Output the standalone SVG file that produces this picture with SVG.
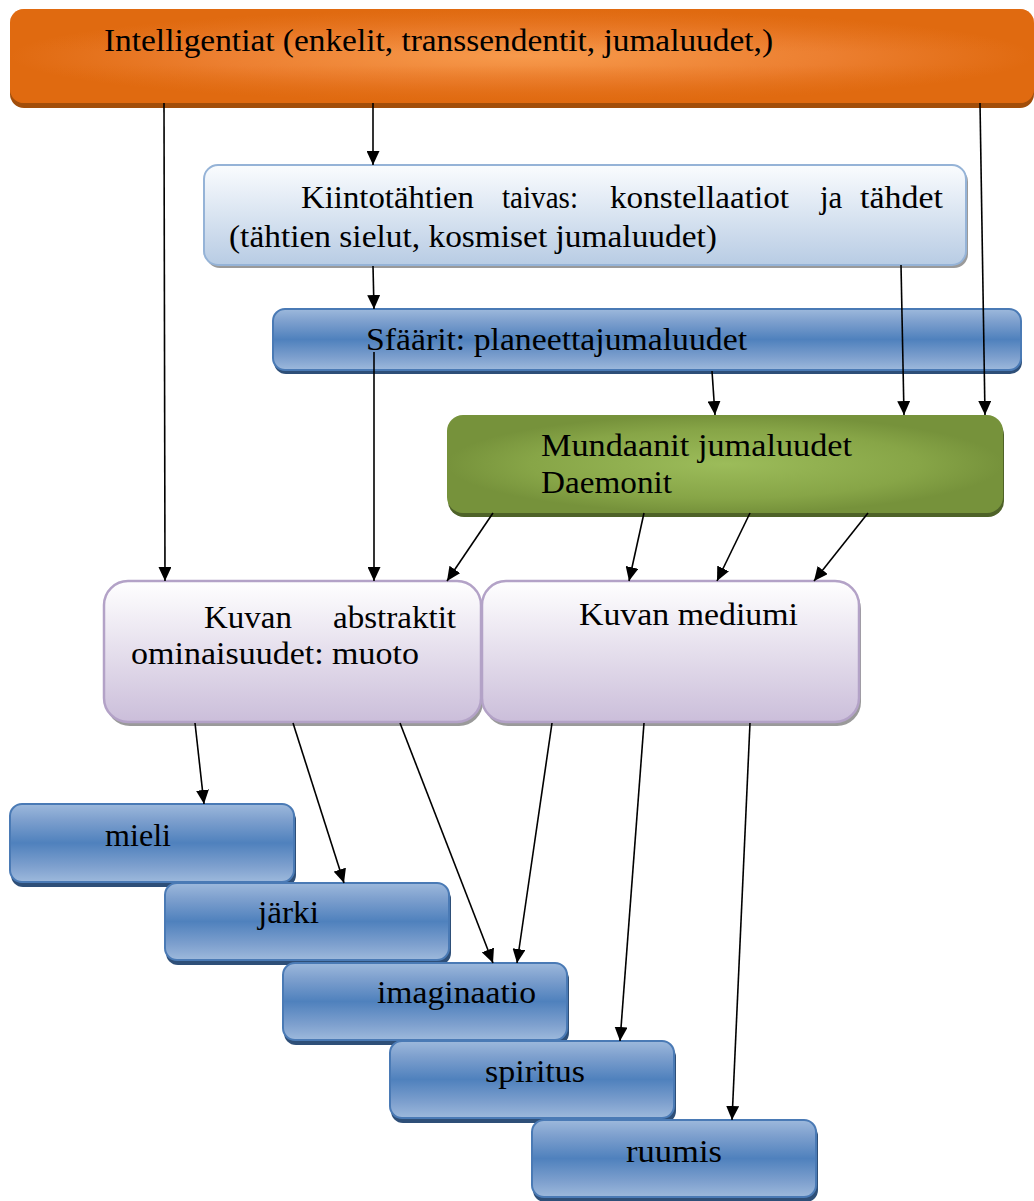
<svg xmlns="http://www.w3.org/2000/svg" width="1034" height="1201" viewBox="0 0 1034 1201">
<defs>
  <radialGradient id="gOrange" cx="0.5" cy="0.5" r="0.5">
    <stop offset="0" stop-color="#F79A4C"/>
    <stop offset="0.6" stop-color="#EC7F30"/>
    <stop offset="1" stop-color="#E06A10"/>
  </radialGradient>
  <linearGradient id="gOrangeV" x1="0" y1="0" x2="0" y2="1">
    <stop offset="0" stop-color="#E06A10" stop-opacity="0.6"/>
    <stop offset="0.45" stop-color="#E06A10" stop-opacity="0"/>
    <stop offset="0.6" stop-color="#E06A10" stop-opacity="0"/>
    <stop offset="1" stop-color="#E06A10" stop-opacity="0.8"/>
  </linearGradient>
  <linearGradient id="gLight" x1="0" y1="0" x2="0" y2="1">
    <stop offset="0" stop-color="#FAFCFE"/>
    <stop offset="1" stop-color="#B8CCE4"/>
  </linearGradient>
  <linearGradient id="gBlue" x1="0" y1="0" x2="0" y2="1">
    <stop offset="0" stop-color="#9DB9DC"/>
    <stop offset="0.2" stop-color="#7EA0CE"/>
    <stop offset="0.5" stop-color="#4F81BD"/>
    <stop offset="0.8" stop-color="#7EA0CE"/>
    <stop offset="1" stop-color="#9DB9DC"/>
  </linearGradient>
  <radialGradient id="gGreen" cx="0.5" cy="0.5" r="0.5">
    <stop offset="0" stop-color="#9CBC5A"/>
    <stop offset="0.7" stop-color="#87A547"/>
    <stop offset="1" stop-color="#76923B"/>
  </radialGradient>
  <linearGradient id="gLav" x1="0" y1="0" x2="0" y2="1">
    <stop offset="0" stop-color="#FFFFFF"/>
    <stop offset="1" stop-color="#CBBEDA"/>
  </linearGradient>
  <marker id="arr" markerUnits="userSpaceOnUse" markerWidth="14" markerHeight="13" refX="14" refY="6.5" orient="auto">
    <path d="M0,0 L14,6.5 L0,13 z" fill="#000"/>
  </marker>
</defs>
<style>
  .t { font-family: 'Liberation Serif', 'Times New Roman', serif; font-size: 31px; fill: #000; }
  .lt { fill: url(#gLight); stroke: #95B3D7; stroke-width: 2; }
  .bl { fill: url(#gBlue); stroke: #4A7AB5; stroke-width: 2; }
  .blsh { fill: #2E4F78; }
  .grsh { fill: #9A9A9A; }
  .lv { fill: url(#gLav); stroke: #B3A2C7; stroke-width: 2.5; }
  .conn line { stroke: #000; stroke-width: 1.6; marker-end: url(#arr); }
</style>

<g id="intelligentiat">
  <rect x="10" y="14" width="1024" height="94" rx="14" fill="#A24E0A"/>
  <rect x="10" y="9" width="1024" height="94" rx="14" fill="url(#gOrange)"/>
  <rect x="10" y="9" width="1024" height="94" rx="14" fill="url(#gOrangeV)"/>
  <text class="t" x="104" y="51" textLength="669" lengthAdjust="spacingAndGlyphs">Intelligentiat (enkelit, transsendentit, jumaluudet,)</text>
</g>

<g id="kiintotahtien">
  <rect x="206" y="168" width="762" height="100" rx="14" class="grsh"/>
  <rect x="204" y="165" width="762" height="100" rx="14" class="lt"/>
  <text class="t" x="301" y="208" textLength="173" lengthAdjust="spacingAndGlyphs">Kiintotähtien</text>
  <text class="t" x="502" y="208" textLength="76" lengthAdjust="spacingAndGlyphs">taivas:</text>
  <text class="t" x="610" y="208" textLength="179" lengthAdjust="spacingAndGlyphs">konstellaatiot</text>
  <text class="t" x="820" y="208">ja</text>
  <text class="t" x="860" y="208" textLength="83" lengthAdjust="spacingAndGlyphs">tähdet</text>
  <text class="t" x="229" y="247" textLength="488" lengthAdjust="spacingAndGlyphs">(tähtien sielut, kosmiset jumaluudet)</text>
</g>

<g id="sfaarit">
  <rect x="274" y="313" width="748" height="61" rx="12" class="blsh"/>
  <rect x="273" y="309" width="748" height="61" rx="12" class="bl"/>
  <text class="t" x="366" y="350" textLength="381" lengthAdjust="spacingAndGlyphs">Sfäärit: planeettajumaluudet</text>
</g>

<g id="mundaanit">
  <rect x="448" y="419" width="556" height="98" rx="16" fill="#4E6228"/>
  <rect x="447" y="415" width="556" height="98" rx="16" fill="url(#gGreen)"/>
  <text class="t" x="541" y="456" textLength="311" lengthAdjust="spacingAndGlyphs">Mundaanit jumaluudet</text>
  <text class="t" x="541" y="493" textLength="131" lengthAdjust="spacingAndGlyphs">Daemonit</text>
</g>

<g id="kuvan-abstraktit">
  <rect x="106" y="585" width="377" height="141" rx="24" class="grsh"/>
  <rect x="104" y="581" width="377" height="141" rx="24" class="lv"/>
  <text class="t" x="204" y="628" textLength="88" lengthAdjust="spacingAndGlyphs">Kuvan</text>
  <text class="t" x="333" y="628" textLength="123" lengthAdjust="spacingAndGlyphs">abstraktit</text>
  <text class="t" x="131" y="664" textLength="288" lengthAdjust="spacingAndGlyphs">ominaisuudet: muoto</text>
</g>

<g id="kuvan-mediumi">
  <rect x="484" y="585" width="377" height="141" rx="24" class="grsh"/>
  <rect x="482" y="581" width="377" height="141" rx="24" class="lv"/>
  <text class="t" x="579" y="625" textLength="219" lengthAdjust="spacingAndGlyphs">Kuvan mediumi</text>
</g>

<g id="mieli">
  <rect x="11" y="808" width="285" height="79" rx="12" class="blsh"/>
  <rect x="10" y="804" width="284" height="78" rx="12" class="bl"/>
  <text class="t" x="105" y="846" textLength="66" lengthAdjust="spacingAndGlyphs">mieli</text>
</g>

<g id="jarki">
  <rect x="166" y="887" width="285" height="78" rx="12" class="blsh"/>
  <rect x="165" y="883" width="284" height="77" rx="12" class="bl"/>
  <text class="t" x="258" y="923" textLength="61" lengthAdjust="spacingAndGlyphs">järki</text>
</g>

<g id="imaginaatio">
  <rect x="284" y="967" width="285" height="78" rx="12" class="blsh"/>
  <rect x="283" y="963" width="284" height="77" rx="12" class="bl"/>
  <text class="t" x="377" y="1003" textLength="159" lengthAdjust="spacingAndGlyphs">imaginaatio</text>
</g>

<g id="spiritus">
  <rect x="391" y="1045" width="285" height="78" rx="12" class="blsh"/>
  <rect x="390" y="1041" width="284" height="77" rx="12" class="bl"/>
  <text class="t" x="485" y="1082" textLength="100" lengthAdjust="spacingAndGlyphs">spiritus</text>
</g>

<g id="ruumis">
  <rect x="533" y="1124" width="285" height="78" rx="12" class="blsh"/>
  <rect x="532" y="1120" width="284" height="77" rx="12" class="bl"/>
  <text class="t" x="626" y="1162" textLength="96" lengthAdjust="spacingAndGlyphs">ruumis</text>
</g>

<g id="connectors" class="conn">
  <line x1="164" y1="103" x2="165" y2="581"/>
  <line x1="373" y1="103" x2="373" y2="165"/>
  <line x1="980" y1="103" x2="985" y2="415"/>
  <line x1="373" y1="266" x2="374" y2="309"/>
  <line x1="901" y1="265" x2="904" y2="415"/>
  <line x1="712" y1="371" x2="715" y2="415"/>
  <line x1="374" y1="352" x2="374" y2="581"/>
  <line x1="493" y1="513" x2="447" y2="581"/>
  <line x1="644" y1="513" x2="629" y2="581"/>
  <line x1="750" y1="513" x2="717" y2="581"/>
  <line x1="868" y1="513" x2="814" y2="581"/>
  <line x1="195" y1="723" x2="204" y2="804"/>
  <line x1="293" y1="723" x2="344" y2="883"/>
  <line x1="400" y1="723" x2="493" y2="963"/>
  <line x1="552" y1="723" x2="517" y2="963"/>
  <line x1="644" y1="723" x2="620" y2="1041"/>
  <line x1="750" y1="723" x2="732" y2="1120"/>
</g>
</svg>
